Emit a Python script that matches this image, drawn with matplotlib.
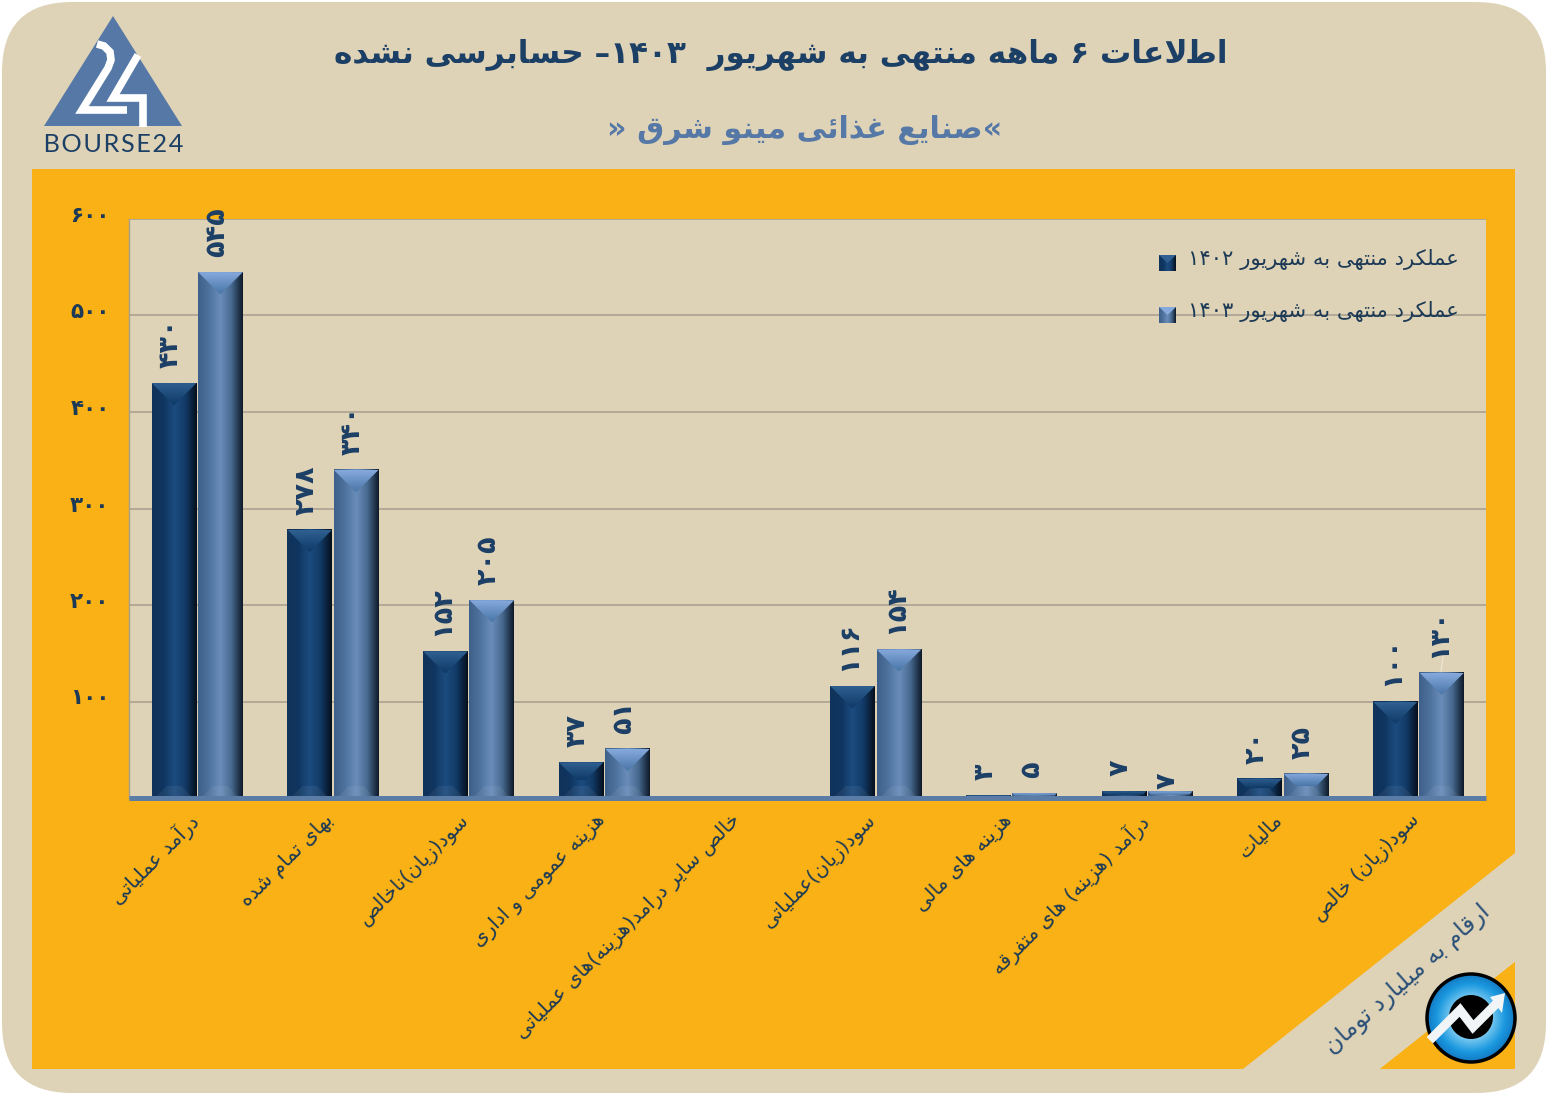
import re
import numpy as np
import matplotlib
matplotlib.use('Agg')
import matplotlib.pyplot as plt
from matplotlib.colors import LinearSegmentedColormap
from matplotlib.patches import Circle, FancyBboxPatch, Polygon, Rectangle
from matplotlib.transforms import ScaledTranslation

title = 'اطلاعات ۶ ماهه منتهی به شهریور  ۱۴۰۳– حسابرسی نشده'
subtitle = '«صنایع غذائی مینو شرق »'
unit_note = 'ارقام به میلیارد تومان'
series_names = ['عملکرد منتهی به شهریور ۱۴۰۲', 'عملکرد منتهی به شهریور ۱۴۰۳']
categories = [
    'درآمد عملیاتی', 'بهای تمام شده', 'سود(زیان)ناخالص', 'هزینه عمومی و اداری',
    'خالص سایر درامد(هزینه)های عملیاتی', 'سود(زیان)عملیاتی', 'هزینه های مالی',
    'درآمد (هزینه) های متفرقه', 'مالیات', 'سود(زیان) خالص',
]
values_1402 = [430, 278, 152, 37, 0, 116, 3, 7, 20, 100]
values_1403 = [545, 340, 205, 51, 0, 154, 5, 7, 25, 130]
y_ticks = [100, 200, 300, 400, 500, 600]

NAVY = '#1c3f66'
INK = '#1c3a55'
STEEL = '#5578a6'
BEIGE = '#dfd3b7'
ORANGE = '#f9b115'

# isolated, final, initial, medial
forms = {
    'ا': (0xFE8D, 0xFE8E), 'آ': (0xFE81, 0xFE82), 'ب': (0xFE8F, 0xFE90, 0xFE91, 0xFE92),
    'پ': (0xFB56, 0xFB57, 0xFB58, 0xFB59), 'ت': (0xFE95, 0xFE96, 0xFE97, 0xFE98),
    'ح': (0xFEA1, 0xFEA2, 0xFEA3, 0xFEA4), 'خ': (0xFEA5, 0xFEA6, 0xFEA7, 0xFEA8),
    'د': (0xFEA9, 0xFEAA), 'ذ': (0xFEAB, 0xFEAC),
    'ر': (0xFEAD, 0xFEAE), 'ز': (0xFEAF, 0xFEB0), 'س': (0xFEB1, 0xFEB2, 0xFEB3, 0xFEB4),
    'ش': (0xFEB5, 0xFEB6, 0xFEB7, 0xFEB8), 'ص': (0xFEB9, 0xFEBA, 0xFEBB, 0xFEBC),
    'ط': (0xFEC1, 0xFEC2, 0xFEC3, 0xFEC4), 'ع': (0xFEC9, 0xFECA, 0xFECB, 0xFECC),
    'غ': (0xFECD, 0xFECE, 0xFECF, 0xFED0), 'ف': (0xFED1, 0xFED2, 0xFED3, 0xFED4),
    'ق': (0xFED5, 0xFED6, 0xFED7, 0xFED8), 'ک': (0xFB8E, 0xFB8F, 0xFB90, 0xFB91),
    'ل': (0xFEDD, 0xFEDE, 0xFEDF, 0xFEE0), 'م': (0xFEE1, 0xFEE2, 0xFEE3, 0xFEE4),
    'ن': (0xFEE5, 0xFEE6, 0xFEE7, 0xFEE8), 'ه': (0xFEE9, 0xFEEA, 0xFEEB, 0xFEEC),
    'و': (0xFEED, 0xFEEE), 'ی': (0xFBFC, 0xFBFD, 0xFBFE, 0xFBFF),
    'ئ': (0xFE89, 0xFE8A, 0xFE8B, 0xFE8C),
}


def fa(text):
    # matplotlib has no arabic shaping, so pick the joined forms and lay out right to left
    text = text.replace('لا', '\uFEFB')
    out = []
    for i, ch in enumerate(text):
        if ch not in forms:
            out.append(ch)
            continue
        prev = text[i - 1] if i else ''
        nxt = text[i + 1] if i + 1 < len(text) else ''
        joins_prev = prev in forms and len(forms[prev]) == 4
        joins_next = len(forms[ch]) == 4 and (nxt in forms or nxt == '\uFEFB')
        if joins_prev and joins_next:
            out.append(chr(forms[ch][3]))
        elif joins_prev:
            out.append(chr(forms[ch][1]))
        elif joins_next:
            out.append(chr(forms[ch][2]))
        else:
            out.append(chr(forms[ch][0]))
    shaped = ''.join(out).translate(str.maketrans('()', ')('))[::-1]
    return re.sub('[۰-۹]+', lambda m: m.group()[::-1], shaped)


def fa_num(n):
    return str(n).translate(str.maketrans('0123456789', '۰۱۲۳۴۵۶۷۸۹'))


W, H = 1547, 1094
fig = plt.figure(figsize=(W / 100, H / 100), dpi=100, facecolor='white')

# page decoration in pixel coordinates
bg = fig.add_axes([0, 0, 1, 1], zorder=0)
bg.set_xlim(0, W)
bg.set_ylim(H, 0)
bg.axis('off')
bg.add_patch(FancyBboxPatch((72, 72), W - 143, H - 143, boxstyle='round,pad=70', fc=BEIGE, ec='none'))
bg.add_patch(Rectangle((32, 169), 1483, 900, fc=ORANGE, ec='none'))
bg.add_patch(Polygon([(1515, 853), (1515, 962), (1380, 1069), (1243, 1069)], fc=BEIGE, ec='none'))

# logo
bg.add_patch(Polygon([(113, 16), (44, 126), (182, 126)], fc=STEEL, ec='none'))
bg.plot([97, 104, 110, 111, 108, 82, 127], [44, 46, 52, 60, 68, 110, 110],
        color='white', lw=5.5, solid_joinstyle='miter', solid_capstyle='butt')
bg.plot([138, 113, 143, 143], [55, 98, 98, 127], color='white', lw=5.5,
        solid_joinstyle='miter', solid_capstyle='butt')
bg.text(113, 144, '\u200aB\u200aO\u200aU\u200aR\u200aS\u200aE\u200a2\u200a4', family='Lato', fontsize=18.2,
        color=NAVY, ha='center', va='center')

bg.text(781, 55, fa(title), fontsize=22.4, fontweight='bold', color=NAVY, ha='center', va='center')
bg.text(805, 130, fa(subtitle), fontsize=21.8, fontweight='bold', color=STEEL, ha='center', va='center')

# chart
L, R, T, B = 129, 1486, 219, 798
ax = fig.add_axes([L / W, 1 - B / H, (R - L) / W, (B - T) / H], zorder=1, facecolor=BEIGE)

side_1402 = LinearSegmentedColormap.from_list('s1', ['#10335a', '#0f3560', '#1c4c80', '#123a66', '#05101e'])
side_1403 = LinearSegmentedColormap.from_list('s2', ['#3f6089', '#4f739f', '#6a8dba', '#47698f', '#0f1b2b'])
top_1402 = LinearSegmentedColormap.from_list('t1', ['#0f3a66', '#2f6091'])
top_1403 = LinearSegmentedColormap.from_list('t2', ['#4a76a8', '#86a9dc'])

x = np.arange(len(categories))
bar_w = 0.33
px_x = 10 / (R - L)
px_y = 600 / (B - T)


def shade_bars(bars, side, top):
    for bar in bars:
        x0, w, h = bar.get_x(), bar.get_width(), bar.get_height()
        if h <= 0:
            continue
        ax.imshow(np.linspace(0, 1, 64)[None, :], cmap=side, aspect='auto',
                  extent=(x0, x0 + w, 0, h), zorder=2)
        x1 = x0 + w
        b = min(22, h / px_y / 2)
        poly = Polygon([(x0, h), (x1, h), (x1 - b * px_x, h - b * px_y), (x0 + b * px_x, h - b * px_y)],
                       transform=ax.transData, fc='none', ec='none', zorder=2.1)
        ax.add_patch(poly)
        im = ax.imshow(np.linspace(1, 0, 32)[:, None], cmap=top, aspect='auto',
                       extent=(x0, x1, h - b * px_y, h), zorder=2.1)
        im.set_clip_path(poly)
        bb = min(12, b)
        ax.add_patch(Polygon([(x0 + 3 * px_x, 0), (x1 - 3 * px_x, 0),
                              (x1 - (3 + bb) * px_x, bb * px_y), (x0 + (3 + bb) * px_x, bb * px_y)],
                             fc='white', alpha=0.06, ec='none', zorder=2.2))


bars_1402 = ax.bar(x - 0.168, values_1402, bar_w, color='#123a66', zorder=2)
bars_1403 = ax.bar(x + 0.174, values_1403, bar_w, color='#5a7ca8', zorder=2)
shade_bars(bars_1402, side_1402, top_1402)
shade_bars(bars_1403, side_1403, top_1403)

for bars, vals in ((bars_1402, values_1402), (bars_1403, values_1403)):
    for i, (bar, v) in enumerate(zip(bars, vals)):
        if v == 0:
            continue
        # the second 7 sits right on its bar in the original
        gap = 2 if (vals is values_1403 and i == 7) else 15
        ax.annotate(fa_num(v), (bar.get_x() + bar.get_width() / 2, v), xytext=(-3, gap),
                    textcoords='offset pixels', rotation=90, ha='center', va='bottom',
                    fontsize=19.5, fontweight='bold', color=NAVY, annotation_clip=False, zorder=4)

ax.set_xlim(-0.5, 9.5)
ax.set_ylim(0, 600)
ax.tick_params(axis='y', length=0, pad=14)
ax.tick_params(axis='x', length=0, pad=9)
ax.set_yticks(y_ticks)
ax.set_yticklabels([fa_num(t) for t in y_ticks], fontsize=15.5, fontweight='bold', color=INK)
for lab in ax.get_yticklabels():
    lab.set_transform(lab.get_transform() + ScaledTranslation(0, 0.05, fig.dpi_scale_trans))
ax.set_xticks(x)
ax.set_xticklabels([fa(c) for c in categories], rotation=45, ha='right', va='top',
                   rotation_mode='anchor', fontsize=14.3, color=INK)
for lab in ax.get_xticklabels():
    lab.set_transform(lab.get_transform() + ScaledTranslation(-0.09, 0, fig.dpi_scale_trans))
ax.grid(axis='y', color='#a59e8c', lw=1.1, zorder=1)
ax.set_axisbelow(True)
for name in ('top', 'right'):
    ax.spines[name].set_visible(False)
ax.spines['left'].set_color('#a59e8c')
ax.spines['left'].set_linewidth(1)
ax.spines['bottom'].set_color('#5a7ca5')
ax.spines['bottom'].set_linewidth(3.6)
ax.spines['bottom'].set_capstyle('butt')

# foreground in pixel coordinates: legend, unit note, round badge
fg = fig.add_axes([0, 0, 1, 1], zorder=2)
fg.set_xlim(0, W)
fg.set_ylim(H, 0)
fg.axis('off')
fg.patch.set_alpha(0)

for name, yc, side, top in ((series_names[0], 263, side_1402, '#2f6091'),
                            (series_names[1], 315, side_1403, '#86a9dc')):
    fg.imshow(np.linspace(0, 1, 32)[None, :], cmap=side, aspect='auto',
              extent=(1159, 1176, yc + 8, yc - 8), zorder=3)
    fg.add_patch(Polygon([(1159, yc - 8), (1176, yc - 8), (1167.5, yc)], fc=top, ec='none', zorder=3.1))
    fg.text(1188, yc - 4, fa(name), fontsize=15.2, color=INK, ha='left', va='center', zorder=4)

fg.text(1408, 980, fa(unit_note), fontsize=17, rotation=41.5, color='#2a5078',
        ha='center', va='center', rotation_mode='anchor', zorder=4)

# small leader line of the last label
fg.plot([1443, 1441], [657, 671], color='#efe9d8', lw=0.8, zorder=3)

# badge
fg.add_patch(Polygon([(1515, 962), (1380, 1069), (1515, 1069)], fc=ORANGE, ec='none', zorder=2))
yy, xx = np.mgrid[-1:1:180j, -1:1:180j]
rim = np.sqrt(xx ** 2 + yy ** 2)
badge = LinearSegmentedColormap.from_list('b', ['#bfe4f7', '#62bdec', '#1a98df', '#1276c0'])
img = fg.imshow(rim, cmap=badge, vmin=0.3, vmax=1, extent=(1426, 1516, 1063, 973), aspect='auto', zorder=3)
clip = Circle((1471, 1018), 45, transform=fg.transData, fc='none', ec='none')
fg.add_patch(clip)
img.set_clip_path(clip)
fg.add_patch(Circle((1471, 1018), 44, fc='none', ec='black', lw=2.5, zorder=3.2))
fg.add_patch(Circle((1471, 1017), 22, fc='black', ec='none', zorder=3.3))
fg.plot([1433, 1460, 1473, 1496], [1037, 1010, 1027, 1004], color='#f2f5f7', lw=6.5,
        solid_joinstyle='miter', zorder=3.4)
fg.add_patch(Polygon([(1505, 993), (1502, 1013), (1490, 997)], fc='#f2f5f7', ec='none', zorder=3.4))

fg.set_xlim(0, W)
fg.set_ylim(H, 0)
ax.set_xlim(-0.5, 9.5)
ax.set_ylim(0, 600)

fig.savefig('out.png', dpi=100, facecolor=fig.get_facecolor())
